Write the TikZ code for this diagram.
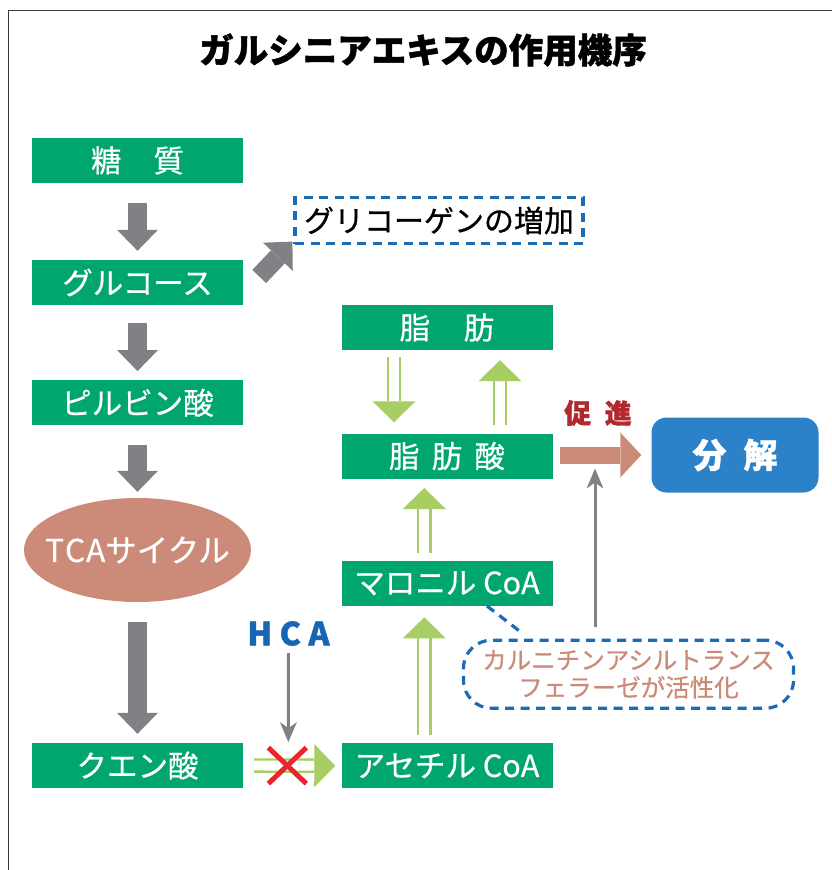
\documentclass[tikz,border=0pt]{standalone}
\usepackage{fontspec}
\setmainfont{Noto Sans CJK JP}
\newfontfamily\medfont[FakeBold=0.6]{Noto Sans CJK JP}
\newfontfamily\heavyfont[BoldFeatures={FakeBold=1.3}]{Noto Sans CJK JP}
\usetikzlibrary{arrows.meta,calc,shapes.geometric}
\definecolor{boxgreen}{HTML}{00A66D}
\definecolor{lgreen}{HTML}{A6CE62}
\definecolor{agray}{HTML}{808184}
\definecolor{salmon}{HTML}{CB8B78}
\definecolor{dblue}{HTML}{1D6AB5}
\definecolor{bblue}{HTML}{2B82C8}
\definecolor{hcablue}{HTML}{1666B3}
\definecolor{dred}{HTML}{B1282E}
\definecolor{xred}{HTML}{E8262B}
\definecolor{framec}{HTML}{3A3A3A}
\newcommand{\fsz}[1]{\fontsize{#1pt}{#1pt}\selectfont}
\tikzset{
  gbox/.style={fill=boxgreen, text=white, minimum width=211pt, minimum height=45pt, inner sep=0pt, font=\medfont\fsz{30.5}},
  grayblock/.style={draw=agray, line width=19pt, -{Triangle[length=21pt,width=41pt,line width=0pt]}},
  salblock/.style={draw=salmon, line width=17pt, -{Triangle[length=21pt,width=45pt,line width=0pt]}},
  dblarrow/.style={draw=lgreen, line width=2.3pt, double=white, double distance=9.9pt, -{Triangle[length=21pt,width=43pt,line width=0pt]}},
  thinarrow/.style={draw=agray, line width=3pt, -{Stealth[length=20pt,width=17pt,inset=6pt,line width=0pt]}},
  bluedash/.style={draw=dblue, line width=3.2pt, dash pattern=on 9pt off 6.5pt},
}
\begin{document}
\begin{tikzpicture}[x=1pt,y=-1pt]
\useasboundingbox (0,0) rectangle (832,870);
% frame
\draw[framec, line width=1.5pt] (8.5,870) -- (8.5,10.5) -- (832,10.5);
% title
\node[font=\heavyfont\bfseries\fsz{34.5}, inner sep=0pt] (title) at (423,50) {ガルシニアエキスの作用機序};
% left column
\node[gbox] (n1) at (137.5,160.5) {糖\hspace{1.05em}質};
\node[gbox] (n2) at (137.5,282.5) {グルコース};
\node[gbox] (n3) at (137.5,402.8) {ピルビン酸};
\node[ellipse, fill=salmon, text=white, minimum width=227pt, minimum height=104pt, inner sep=0pt, font=\medfont\fsz{31.5}] (tca) at (137.5,550) {\makebox[0pt][c]{T\hspace{1pt}C\hspace{1pt}Aサイクル}};
\node[gbox] (n4) at (137.5,765.5) {クエン酸};
% glycogen
\node[bluedash, minimum width=288pt, minimum height=46pt, inner sep=0pt, font=\medfont\fsz{30}] (glyco) at (439,220.5) {グリコーゲンの増加};
% right column
\node[gbox] (fat) at (447,327.5) {脂\hspace{1.1em}肪};
\node[gbox] (fa) at (447,456) {脂\hspace{0.4em}肪\hspace{0.4em}酸};
\node[gbox] (mal) at (447,583.3) {マロニル CoA};
\node[gbox] (ace) at (447,765.8) {アセチル CoA};
% decomposition
\node[fill=bblue, rounded corners=15pt, minimum width=167pt, minimum height=75pt, inner sep=0pt, text=white, font=\heavyfont\bfseries\fsz{34}] (bunkai) at (735,455) {分\hspace{0.5em}解};
% callout
\node[bluedash, rounded corners=28pt, minimum width=330pt, minimum height=68pt, inner sep=0pt, text=salmon, font=\medfont\fsz{24.5}, align=center] (callout) at (628.5,674.2) {カルニチンアシルトランス\\[3pt]フェラーゼが活性化};
% labels
\node[text=hcablue, font=\heavyfont\bfseries\fsz{32}, inner sep=0pt] (hca) at (288.5,633.5) {H\hspace{7.5pt}C\hspace{7.5pt}A};
\node[text=dred, font=\heavyfont\bfseries\fsz{27}, inner sep=0pt] (sokushin) at (598,413) {促\hspace{0.5em}進};
% gray block arrows
\draw[grayblock] ([yshift=-19.7pt]n1.south) -- ([yshift=9pt]n2.north);
\draw[grayblock] ([yshift=-18pt]n2.south) -- ([yshift=9pt]n3.north);
\draw[grayblock] ([yshift=-19.5pt]n3.south) -- ([yshift=6pt]tca.north);
\draw[grayblock] ([yshift=-19.7pt]tca.south) -- ([yshift=9pt]n4.north);
\draw[grayblock] ($(n2.east)+(16,-6)$) -- ($(glyco.south west)+(-1,-3.5)$);
% green double arrows
\draw[dblarrow] ($(fat.south)+(-53,7)$) -- ($(fa.north)+(-53,-11)$);
\draw[dblarrow] ($(fa.north)+(53,-8)$) -- ($(fat.south)+(53,10)$);
\draw[dblarrow] ($(mal.north)+(-22.7,-7.5)$) -- ($(fa.south)+(-22.7,9.3)$);
\draw[dblarrow] ($(ace.north)+(-22.7,-8.3)$) -- ($(mal.south)+(-22.7,11.3)$);
\draw[dblarrow] ($(n4.east)+(11,0)$) -- ($(ace.west)+(-6,0)$);
% red cross
\coordinate (xc) at ($(n4.east)!0.45!(ace.west)$);
\draw[xred, line width=5pt] ($(xc)+(-19,-18)$) -- ($(xc)+(19,18)$) ($(xc)+(-19,18)$) -- ($(xc)+(19,-18)$);
% HCA arrow
\draw[thinarrow] ($(hca.south)+(0,7)$) -- ($(xc)+(1,-23.5)$);
% salmon arrow
\draw[salblock] ($(fa.east)+(7,-1)$) -- ($(bunkai.west)+(-10,0)$);
% thin arrow up from callout
\draw[thinarrow] ($(callout.north)+(-33.5,-12)$) -- ($(callout.north)+(-33.5,-170)$);
% callout tail
\draw[bluedash] ($(mal.south)+(40,0)$) -- ($(callout.north)+(-107,-6)$);
\end{tikzpicture}
\end{document}
